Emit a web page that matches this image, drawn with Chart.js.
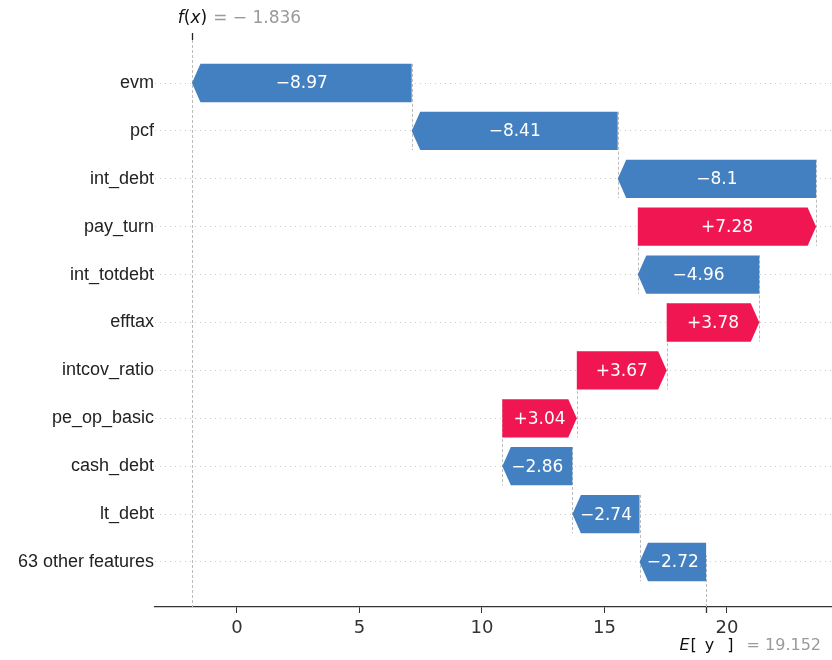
<!DOCTYPE html>
<html>
<head>
<meta charset="utf-8">
<script src="https://cdn.jsdelivr.net/npm/chart.js@4/dist/chart.umd.min.js"></script>
<style>
  html, body { margin: 0; padding: 0; background: #ffffff; }
  #wrap { width: 832px; height: 660px; }
</style>
</head>
<body>
<div id="wrap"><canvas id="c" width="832" height="660"></canvas></div>
<script>
// Feature contributions, listed top to bottom
const features = ['evm', 'pcf', 'int_debt', 'pay_turn', 'int_totdebt', 'efftax',
                  'intcov_ratio', 'pe_op_basic', 'cash_debt', 'lt_debt', '63 other features'];
const shapValues = [-8.97, -8.41, -8.1, 7.28, -4.96, 3.78, 3.67, 3.04, -2.86, -2.74, -2.72];
const baseValue = 19.152;   // E[y]
const fxValue = -1.836;     // f(x)
const xTicks = [0, 5, 10, 15, 20];

// Running totals from the bottom row (starting at E[y]) upward
const flatEnds = [];
const tips = [];
let acc = baseValue;
for (let i = features.length - 1; i >= 0; i--) {
  flatEnds[i] = acc;
  acc += shapValues[i];
  tips[i] = acc;
}

const BLUE = 'rgb(67,128,193)';
const RED = 'rgb(239,22,82)';

function fmt(v) {
  return (v > 0 ? '+' : '\u2212') + String(Math.abs(v));
}

// Draws pieces of text [text, fontStyle, gap] left to right, returns the end x
function drawPieces(ctx, pieces, x, y, size, color) {
  ctx.fillStyle = color;
  for (const [t, style, gap] of pieces) {
    x += gap || 0;
    ctx.font = style + ' ' + size + 'px "DejaVu Sans"';
    ctx.fillText(t, x, y);
    x += ctx.measureText(t).width;
  }
  return x;
}
function measurePieces(ctx, pieces, size) {
  let w = 0;
  for (const [t, style, gap] of pieces) {
    ctx.font = style + ' ' + size + 'px "DejaVu Sans"';
    w += (gap || 0) + ctx.measureText(t).width;
  }
  return w;
}

const waterfallPlugin = {
  id: 'waterfall',
  beforeDatasetsDraw(chart) {
    const {ctx, chartArea: a, scales: {x, y}} = chart;
    ctx.save();
    ctx.strokeStyle = '#bbbbbb';
    ctx.lineWidth = 1;
    ctx.setLineDash([3, 2]);
    // connectors between consecutive rows
    for (let i = 0; i < features.length - 1; i++) {
      const px = Math.round(x.getPixelForValue(flatEnds[i])) + 0.5;
      ctx.beginPath();
      ctx.moveTo(px, y.getPixelForValue(i - 0.4));
      ctx.lineTo(px, y.getPixelForValue(i + 1.4));
      ctx.stroke();
    }
    // f(x) line across the whole plot
    const pf = Math.round(x.getPixelForValue(fxValue)) + 0.5;
    ctx.beginPath();
    ctx.moveTo(pf, a.top);
    ctx.lineTo(pf, a.bottom);
    ctx.stroke();
    // E[y] line in the lowest row band
    const pe = Math.round(x.getPixelForValue(baseValue)) + 0.5;
    ctx.beginPath();
    ctx.moveTo(pe, a.bottom);
    ctx.lineTo(pe, a.bottom - (a.bottom - a.top) / features.length);
    ctx.stroke();
    ctx.restore();
  },
  afterDatasetsDraw(chart) {
    const {ctx, scales: {x, y}} = chart;
    const rowH = y.getPixelForValue(1) - y.getPixelForValue(0);
    const half = rowH * 0.4;
    ctx.save();
    for (let i = 0; i < features.length; i++) {
      const xf = x.getPixelForValue(flatEnds[i]);
      const xt = x.getPixelForValue(tips[i]);
      const yc = y.getPixelForValue(i);
      const dir = xt > xf ? 1 : -1;
      const head = Math.min(8.5, Math.abs(xt - xf));
      ctx.fillStyle = shapValues[i] > 0 ? RED : BLUE;
      ctx.beginPath();
      ctx.moveTo(xf, yc - half);
      ctx.lineTo(xt - dir * head, yc - half);
      ctx.lineTo(xt, yc);
      ctx.lineTo(xt - dir * head, yc + half);
      ctx.lineTo(xf, yc + half);
      ctx.closePath();
      ctx.fill();

      ctx.fillStyle = '#ffffff';
      ctx.font = '17px "DejaVu Sans"';
      ctx.textAlign = 'center';
      ctx.textBaseline = 'middle';
      ctx.fillText(fmt(shapValues[i]), x.getPixelForValue((flatEnds[i] + tips[i]) / 2), yc + 1);
    }
    ctx.restore();
  },
  afterDraw(chart) {
    const {ctx, chartArea: a, scales: {x}} = chart;
    ctx.save();
    ctx.textAlign = 'left';
    ctx.textBaseline = 'middle';

    // top marker and f(x) label
    const pf = Math.round(x.getPixelForValue(fxValue)) + 0.5;
    ctx.strokeStyle = '#222';
    ctx.lineWidth = 1.3;
    ctx.beginPath();
    ctx.moveTo(pf, a.top - 7);
    ctx.lineTo(pf, a.top);
    ctx.stroke();
    const fPieces = [['f', 'italic'], ['(', 'normal'], ['x', 'italic'], [')', 'normal']];
    const fw = measurePieces(ctx, fPieces, 17);
    let end = drawPieces(ctx, fPieces, pf - fw / 2, 19, 17, '#111');
    const fxText = '= ' + (fxValue < 0 ? '\u2212 ' : '') + Math.abs(fxValue).toFixed(3);
    drawPieces(ctx, [[fxText, 'normal']], end + 6, 19, 17, '#9a9a9a');

    // bottom marker and E[y] label
    const pe = Math.round(x.getPixelForValue(baseValue)) + 0.5;
    ctx.strokeStyle = '#333';
    ctx.lineWidth = 1.3;
    ctx.beginPath();
    ctx.moveTo(pe, a.bottom);
    ctx.lineTo(pe, a.bottom + 6);
    ctx.stroke();
    const ePieces = [['E', 'italic'], ['[', 'normal', 1], ['y', 'normal', 8], [']', 'normal', 13]];
    const ew = measurePieces(ctx, ePieces, 16);
    end = drawPieces(ctx, ePieces, pe - ew / 2, 646, 16, '#111');
    drawPieces(ctx, [['= ' + baseValue.toFixed(3), 'normal']], end + 13, 646, 16, '#9a9a9a');
    ctx.restore();
  }
};

new Chart(document.getElementById('c'), {
  type: 'bar',
  data: {
    datasets: [{
      data: features.map((f, i) => ({ y: i, x: [flatEnds[i], tips[i]] })),
      backgroundColor: 'rgba(0,0,0,0)',
      borderWidth: 0
    }]
  },
  options: {
    responsive: false,
    animation: false,
    indexAxis: 'y',
    layout: { padding: { top: 40, left: 0, right: 0, bottom: 0 } },
    plugins: { legend: { display: false }, tooltip: { enabled: false } },
    scales: {
      x: {
        type: 'linear',
        min: -3.347,
        max: 24.29,
        afterBuildTicks: s => { s.ticks = xTicks.map(v => ({ value: v })); },
        afterFit: s => { s.height = 53; },
        grid: { drawOnChartArea: false, drawTicks: true, tickLength: 6, color: '#333', lineWidth: 1 },
        border: { display: true, color: '#333', width: 1.3 },
        ticks: { font: { family: 'DejaVu Sans', size: 18 }, color: '#333', padding: 5, maxRotation: 0, autoSkip: false }
      },
      y: {
        type: 'linear',
        reverse: true,
        offset: false,
        min: -0.898,
        max: 10.94,
        afterBuildTicks: s => { s.ticks = features.map((f, i) => ({ value: i })); },
        afterFit: s => { s.width = 155; },
        grid: { color: '#cccccc', lineWidth: 1, drawTicks: false, offset: false },
        border: { display: false, dash: [1, 4] },
        ticks: {
          callback: v => features[v],
          font: { family: 'Liberation Sans', size: 18 },
          color: '#222',
          padding: 1,
          autoSkip: false
        }
      }
    }
  },
  plugins: [waterfallPlugin]
});
</script>
</body>
</html>
